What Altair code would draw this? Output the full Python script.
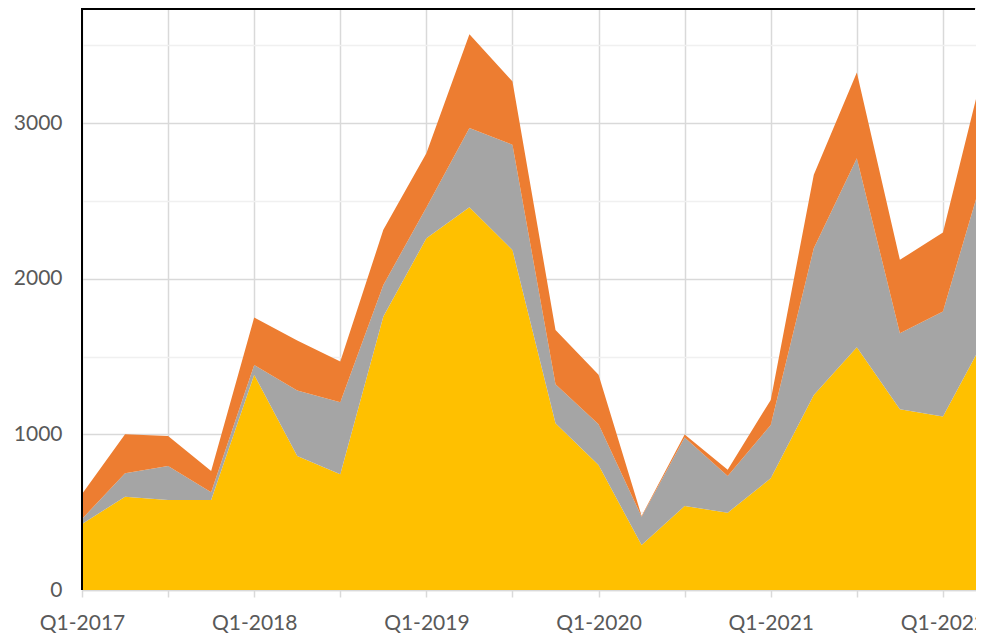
import altair as alt
import pandas as pd

quarters = [f"Q{q}-{y}" for y in range(2017, 2023) for q in range(1, 5)][:22]

series_names = ["Series A", "Series B", "Series C"]
series_colors = ["#FFC000", "#A5A5A5", "#ED7D31"]

yellow = [424, 600, 579, 579, 1383, 862, 744, 1758, 2261, 2461, 2186,
          1072, 804, 289, 540, 497, 718, 1254, 1561, 1162, 1115, 1630]
gray = [33, 150, 218, 49, 64, 420, 463, 203, 198, 508, 676,
        251, 262, 182, 440, 236, 343, 942, 1215, 489, 675, 1100]
orange = [160, 251, 193, 137, 305, 321, 261, 354, 349, 604, 407,
          349, 317, 5, 20, 40, 161, 473, 551, 471, 508, 685]

y_ticks = [0, 500, 1000, 1500, 2000, 2500, 3000, 3500]
y_max = 3741
x_max = 20.768  # visible part of the quarter axis (chart is cut at the right)

rows = []
for k, (name, vals) in enumerate(zip(series_names, [yellow, gray, orange])):
    for i, (q, v) in enumerate(zip(quarters, vals)):
        rows.append({"idx": i, "quarter": q, "series": name, "value": v, "order": k})
df = pd.DataFrame(rows)

label_array = "[" + ",".join(f"'{q}'" for q in quarters) + "]"
x_label_expr = f"datum.value % 4 == 0 ? {label_array}[datum.value] : ''"

W, H = 894, 582
FONT = "Lato"
TXT = "#595959"

area = alt.Chart(df).mark_area(opacity=1, clip=True).encode(
    x=alt.X(
        "idx:Q",
        scale=alt.Scale(domain=[0, x_max], nice=False, zero=False),
        axis=alt.Axis(
            values=list(range(0, len(quarters) - 1, 2)),
            labelExpr=x_label_expr,
            title=None,
            labelAngle=0,
            grid=True,
            gridColor="#D9D9D9",
            gridWidth=1.5,
            tickColor="#D9D9D9",
            tickSize=7,
            tickWidth=1.5,
            domainColor="#D9D9D9",
            domainWidth=1.5,
            labelFont=FONT,
            labelFontSize=21,
            labelColor=TXT,
            labelPadding=15,
            labelOverlap=False,
            labelBound=False,
            labelFlush=False,
        ),
    ),
    y=alt.Y(
        "value:Q",
        stack="zero",
        scale=alt.Scale(domain=[0, y_max], nice=False, zero=True),
        axis=alt.Axis(
            values=y_ticks,
            format="d",
            labelExpr="datum.value % 1000 == 0 ? datum.label : ''",
            title=None,
            ticks=False,
            grid=True,
            gridColor={
                "condition": {"test": "datum.value % 1000 == 0", "value": "#D9D9D9"},
                "value": "#F0F0F0",
            },
            gridWidth=1.5,
            domain=False,
            labelFont=FONT,
            labelFontSize=21,
            labelColor=TXT,
            labelPadding=20,
        ),
    ),
    color=alt.Color(
        "series:N",
        scale=alt.Scale(domain=series_names, range=series_colors),
        legend=None,
    ),
    order=alt.Order("order:Q"),
    tooltip=["quarter:N", "series:N", "value:Q"],
)

left_line = alt.Chart(df).mark_rule(color="#000000", strokeWidth=1.5).encode(
    x=alt.value(0), y=alt.value(0), y2=alt.value(H)
)
top_line = alt.Chart(df).mark_rule(color="#000000", strokeWidth=2).encode(
    x=alt.value(0), x2=alt.value(W - 1), y=alt.value(1)
)

chart = alt.layer(area, left_line, top_line).properties(
    width=W,
    height=H,
    padding={"left": 74, "top": 0, "right": 0, "bottom": 43},
    autosize=alt.AutoSizeParams(type="none"),
).configure_view(
    strokeWidth=0, stroke="#FFFFFF", strokeOpacity=0, fill="#FFFFFF"
).configure(background="#FFFFFF")

chart.save("out.html", embed_options={"renderer": "svg", "actions": False})
